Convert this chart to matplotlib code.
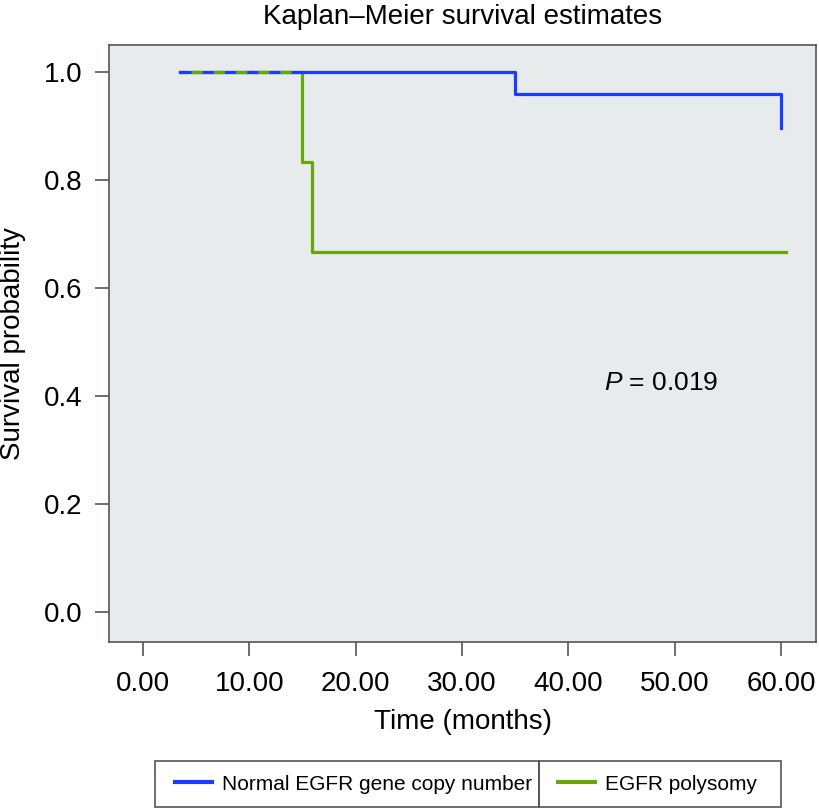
import matplotlib
matplotlib.use("Agg")
import matplotlib.pyplot as plt
from matplotlib.patches import Rectangle

# Dados (tempo em meses, sobrevida estimada)
normal_t = [3.5, 35.0, 60.0]
normal_s = [1.0, 0.96, 0.896]
poly_t = [3.5, 15.0, 15.9, 60.5]
poly_s = [1.0, 0.833, 0.667, 0.667]

labels = ["Normal EGFR gene copy number", "EGFR polysomy"]
x_ticks = [0, 10, 20, 30, 40, 50, 60]
y_ticks = [0.0, 0.2, 0.4, 0.6, 0.8, 1.0]
p_text = "$P$ = 0.019"

plt.rcParams["font.family"] = ["Liberation Sans", "DejaVu Sans"]
plt.rcParams["mathtext.fontset"] = "custom"
plt.rcParams["mathtext.rm"] = "Liberation Sans"
plt.rcParams["mathtext.it"] = "Liberation Sans:italic"
plt.rcParams["lines.scale_dashes"] = False

blue = "#1a3cff"
green = "#66a80a"
edge = "#555555"

fig = plt.figure(figsize=(8.19, 8.08), dpi=100)
ax = fig.add_axes([109 / 819, 1 - 642 / 808, 707 / 819, 597 / 808])
ax.set_facecolor("#e8ebec")

lw = 2.3
l_poly, = ax.step(poly_t, poly_s, where="post", color=green, lw=lw)
l_norm, = ax.step(normal_t, normal_s, where="post", color=blue, lw=lw)
# trecho em que as duas curvas se sobrepõem: verde tracejado sobre o azul
ax.plot(poly_t[:2], [poly_s[0], poly_s[0]], color=green, lw=lw,
        linestyle=(8, (8, 8)), solid_capstyle="butt")

ax.set_xlim(-3.2, 63.3)
ax.set_ylim(-0.056, 1.05)
ax.set_xticks(x_ticks)
ax.set_xticklabels([f"{t:.2f}" for t in x_ticks])
ax.set_yticks(y_ticks)
ax.set_yticklabels([f"{v:.1f}" for v in y_ticks])
ax.tick_params(axis="both", colors=edge, labelcolor="black", labelsize=20,
               length=10, width=1.2)
ax.tick_params(axis="x", pad=11)
ax.tick_params(axis="y", pad=9)
for s in ax.spines.values():
    s.set_color(edge)
    s.set_linewidth(1.2)

ax.set_title("Kaplan\u2013Meier survival estimates", fontsize=20, pad=15)
ax.set_xlabel("Time (months)", fontsize=20)
ax.xaxis.set_label_coords(0.5, -0.112)
ax.set_ylabel("Survival probability", fontsize=20)
ax.yaxis.set_label_coords(-0.118, 0.5)

ax.text(43.4, 0.424, p_text, fontsize=19, va="center", ha="left")

# legenda: duas caixas lado a lado
leg_kw = dict(fontsize=15, frameon=False, handlelength=1.78,
              handletextpad=0.48, borderpad=0, borderaxespad=0,
              loc="center left")
y_leg = 1 - 784 / 808
leg1 = fig.legend([l_norm], [labels[0]], bbox_to_anchor=(175 / 819, y_leg), **leg_kw)
leg2 = fig.legend([l_poly], [labels[1]], bbox_to_anchor=(557.7 / 819, y_leg), **leg_kw)
for lg in (leg1, leg2):
    lg.get_lines()[0].set_linewidth(3)

for x0, w in [(155, 384), (539, 242)]:
    fig.patches.append(Rectangle((x0 / 819, 1 - 807 / 808), w / 819, 46 / 808,
                                 transform=fig.transFigure, fill=False,
                                 edgecolor=edge, linewidth=1.2))

fig.savefig("out.png", dpi=100)
